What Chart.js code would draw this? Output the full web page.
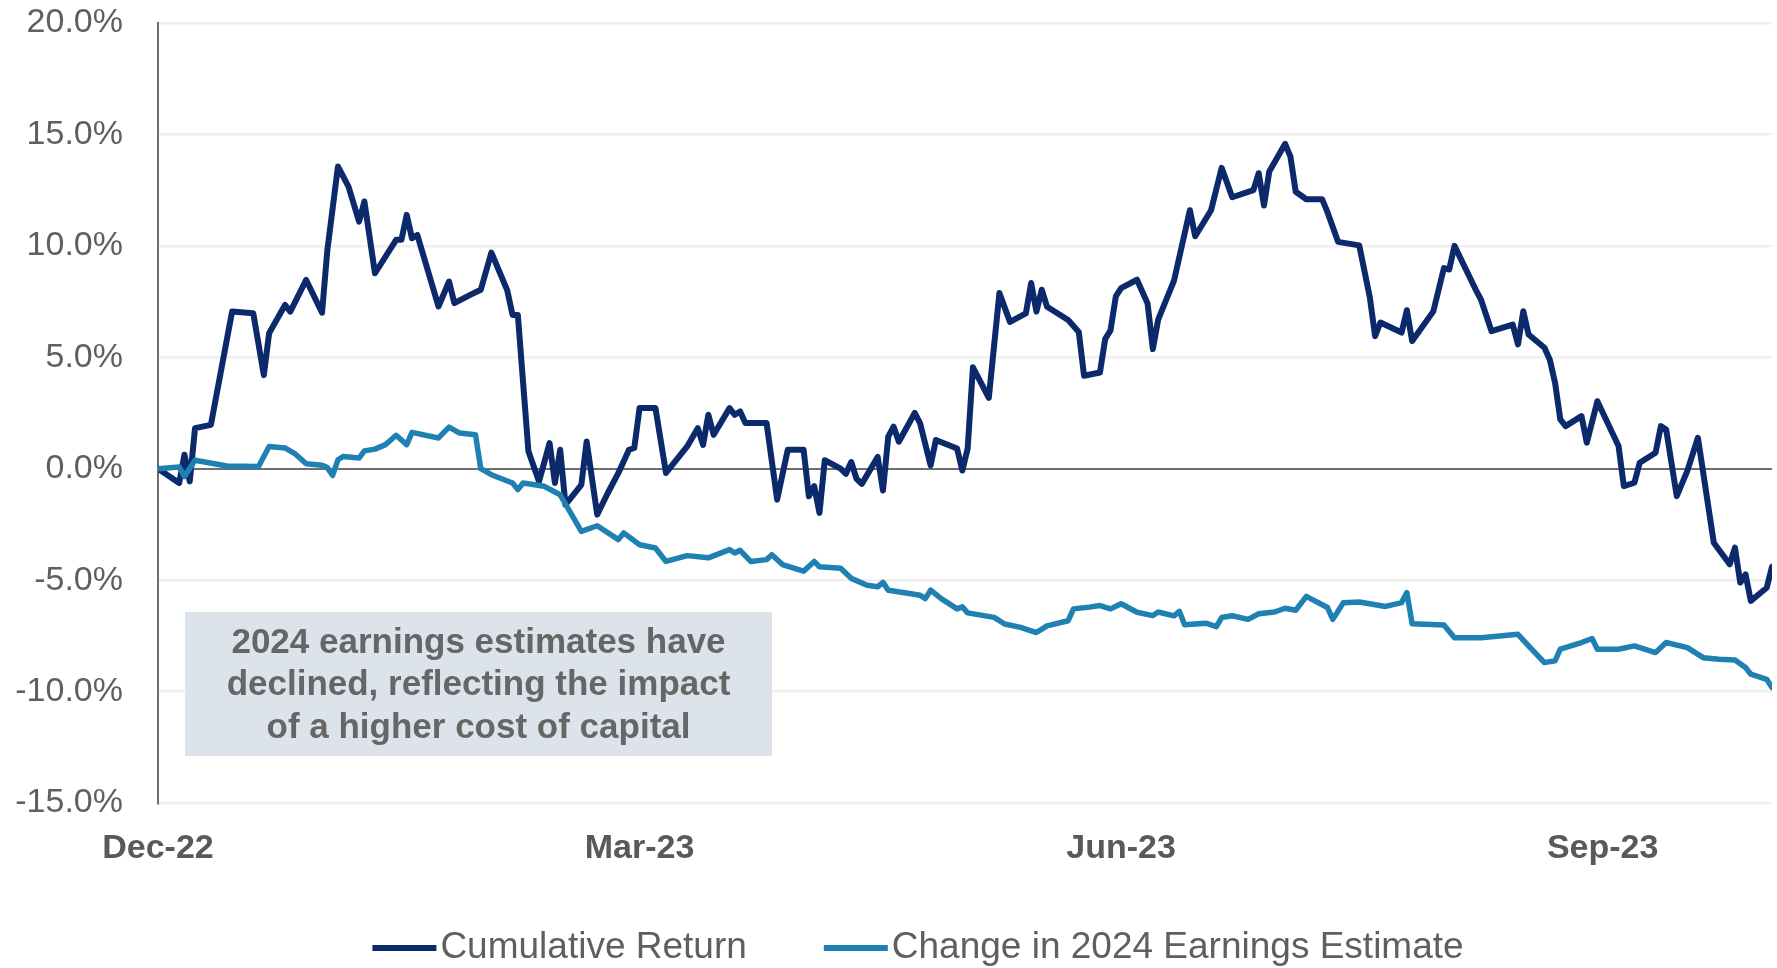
<!DOCTYPE html>
<html>
<head>
<meta charset="utf-8">
<script src="https://cdn.jsdelivr.net/npm/chart.js@4.4.1/dist/chart.umd.min.js"></script>
<style>
  html, body { margin: 0; padding: 0; background: #ffffff; }
  #wrap { position: relative; width: 1777px; height: 968px; }
</style>
</head>
<body>
<div id="wrap"><canvas id="chart"></canvas></div>
<script>
// Calendar days counted from 30 Dec 2022, with the value (%) on that day.
const returnDays = [0, 4, 5, 6, 7, 10, 14, 18, 20, 21, 24, 25, 28, 31, 32, 34, 36, 38, 39, 41,
  45, 46, 47, 48, 49, 53, 55, 56, 59, 61, 63, 66, 67, 68, 70, 72, 74, 75, 76, 77,
  80, 81, 83, 85, 87, 89, 90, 91, 94, 96, 100, 102, 103, 104, 105, 108, 109, 110, 111, 115,
  117, 119, 122, 123, 124, 125, 126, 129, 130, 131, 132, 133, 136, 137, 138, 139, 140, 143, 144, 146,
  147, 151, 152, 153, 154, 157, 159, 161, 164, 165, 166, 167, 168, 172, 174, 175, 178, 179, 180, 181,
  182, 185, 187, 188, 189, 192, 195, 196, 199, 201, 203, 207, 208, 209, 210, 213, 214, 215, 217, 220,
  221, 223, 227, 229, 230, 231, 235, 236, 237, 241, 243, 244, 245, 249, 250, 252, 256, 257, 258, 259,
  262, 263, 264, 265, 266, 269, 270, 272, 276, 277, 279, 280, 283, 284, 285, 287, 289, 291, 294, 297,
  298, 299, 300, 301, 304, 305];
const returnValues = [0.00, -0.64, 0.63, -0.57, 1.82, 1.97, 7.05, 6.98, 4.20, 6.08, 7.35, 7.05, 8.47, 7.00, 9.80, 13.56, 12.66, 11.09, 11.99, 8.77,
  10.27, 10.27, 11.39, 10.34, 10.49, 7.28, 8.40, 7.43, 7.80, 8.03, 9.70, 8.00, 6.90, 6.90, 0.78, -0.57, 1.15, -0.64, 0.85, -1.61,
  -0.72, 1.22, -2.06, -1.09, -0.19, 0.85, 0.93, 2.72, 2.72, -0.19, 1.00, 1.82, 1.07, 2.42, 1.52, 2.72, 2.42, 2.57, 2.05, 2.05,
  -1.39, 0.85, 0.85, -1.24, -0.78, -1.98, 0.38, 0.00, -0.23, 0.30, -0.45, -0.68, 0.53, -0.98, 1.44, 1.89, 1.21, 2.50, 2.05, 0.15,
  1.29, 0.91, -0.08, 0.91, 4.55, 3.18, 7.88, 6.59, 6.97, 8.33, 7.05, 8.03, 7.27, 6.67, 6.14, 4.17, 4.32, 5.83, 6.21, 7.73,
  8.10, 8.48, 7.42, 5.37, 6.69, 8.44, 11.60, 10.43, 11.60, 13.50, 12.18, 12.50, 13.26, 11.81, 13.34, 14.58, 14.00, 12.43, 12.09, 12.09,
  11.51, 10.18, 10.02, 7.69, 5.95, 6.56, 6.11, 7.11, 5.73, 7.06, 9.00, 8.94, 10.00, 8.04, 7.59, 6.17, 6.47, 5.58, 7.07, 6.02,
  5.43, 4.90, 3.86, 2.21, 1.91, 2.36, 1.17, 3.03, 1.02, -0.78, -0.63, 0.27, 0.72, 1.91, 1.76, -1.23, -0.10, 1.39, -3.32, -4.29,
  -3.54, -5.11, -4.74, -5.93, -5.34, -4.40];

const estimateDays = [0, 4, 5, 7, 13, 19, 21, 24, 26, 28, 31, 32, 33, 34, 35, 38, 39, 41, 43, 45,
  47, 48, 53, 55, 57, 60, 61, 63, 67, 68, 69, 73, 76, 78, 80, 83, 87, 88, 91, 94,
  96, 100, 104, 108, 109, 110, 112, 115, 116, 118, 122, 124, 125, 129, 131, 134, 136, 137, 138, 142,
  144, 145, 146, 148, 151, 152, 153, 158, 160, 163, 166, 168, 172, 173, 176, 178, 180, 182, 185, 188,
  189, 192, 193, 194, 198, 200, 201, 203, 206, 208, 211, 213, 215, 217, 221, 222, 224, 227, 232, 235,
  236, 237, 243, 245, 250, 257, 259, 262, 264, 265, 269, 271, 272, 276, 279, 283, 285, 289, 292, 295,
  298, 300, 301, 304, 305];
const estimateValues = [0.00, 0.08, -0.35, 0.38, 0.12, 0.10, 1.00, 0.93, 0.65, 0.22, 0.16, 0.05, -0.30, 0.40, 0.55, 0.48, 0.80, 0.88, 1.08, 1.50,
  1.08, 1.63, 1.38, 1.87, 1.60, 1.52, 0.00, -0.27, -0.64, -0.94, -0.64, -0.79, -1.17, -1.99, -2.81, -2.56, -3.18, -2.88, -3.41, -3.56,
  -4.16, -3.90, -4.00, -3.63, -3.78, -3.66, -4.16, -4.08, -3.86, -4.30, -4.60, -4.16, -4.40, -4.47, -4.92, -5.23, -5.30, -5.10, -5.45, -5.60,
  -5.68, -5.83, -5.45, -5.83, -6.29, -6.20, -6.47, -6.67, -6.97, -7.12, -7.35, -7.05, -6.82, -6.29, -6.21, -6.14, -6.29, -6.06, -6.44, -6.59,
  -6.43, -6.60, -6.40, -7.00, -6.93, -7.09, -6.68, -6.60, -6.76, -6.51, -6.43, -6.26, -6.35, -5.73, -6.23, -6.76, -6.01, -5.98, -6.18, -6.01,
  -5.56, -6.96, -7.01, -7.59, -7.58, -7.43, -7.95, -8.70, -8.62, -8.10, -7.80, -7.62, -8.10, -8.10, -7.95, -8.25, -7.80, -8.03, -8.48, -8.55,
  -8.58, -8.92, -9.22, -9.45, -9.82];

// Quarter-end tick positions (days from 30 Dec 2022) and their labels
const tickDays = [0, 91, 182, 273];
const tickLabels = ['Dec-22', 'Mar-23', 'Jun-23', 'Sep-23'];

const seriesNames = ['Cumulative Return', 'Change in 2024 Earnings Estimate'];
const seriesColors = ['#0c2a6b', '#1f80b2'];

const noteLines = ['2024 earnings estimates have', 'declined, reflecting the impact', 'of a higher cost of capital'];

const FONT = "'Liberation Sans', Arial, Helvetica, sans-serif";

const toPoints = (days, values) => days.map((d, i) => ({ x: d, y: values[i] }));

// Shaded call-out box with centred bold text
const noteBox = {
  id: 'noteBox',
  afterDraw(chart) {
    const ctx = chart.ctx;
    const x = 185, y = 612, w = 587, h = 144;
    ctx.save();
    ctx.fillStyle = '#dde3eb';
    ctx.fillRect(x, y, w, h);
    ctx.fillStyle = '#666666';
    ctx.font = 'bold 35px ' + FONT;
    ctx.textAlign = 'center';
    ctx.textBaseline = 'middle';
    noteLines.forEach((line, i) => ctx.fillText(line, x + w / 2, y + 31 + i * 42.5));
    ctx.restore();
  }
};

// Legend drawn as a short line sample followed by the series name
const lineLegend = {
  id: 'lineLegend',
  afterDraw(chart) {
    const ctx = chart.ctx;
    const sample = 64, gap = 4, itemGap = 77, cy = 948;
    ctx.save();
    ctx.font = '37px ' + FONT;
    ctx.textBaseline = 'middle';
    ctx.textAlign = 'left';
    const items = chart.data.datasets.map(ds => ({ text: ds.label, color: ds.borderColor }))
      .sort((a, b) => seriesNames.indexOf(a.text) - seriesNames.indexOf(b.text));
    const widths = items.map(it => sample + gap + ctx.measureText(it.text).width);
    const total = widths.reduce((s, v) => s + v, 0) + itemGap * (items.length - 1);
    let x = 918 - total / 2;
    items.forEach((it, i) => {
      ctx.fillStyle = it.color;
      ctx.fillRect(x, cy - 3, sample, 6);
      ctx.fillStyle = '#5f5f5f';
      ctx.fillText(it.text, x + sample + gap, cy);
      x += widths[i] + itemGap;
    });
    ctx.restore();
  }
};

new Chart(document.getElementById('chart'), {
  type: 'line',
  data: {
    datasets: [
      {
        label: seriesNames[1],
        data: toPoints(estimateDays, estimateValues),
        borderColor: seriesColors[1],
        backgroundColor: seriesColors[1],
        borderWidth: 5.5,
        order: 0
      },
      {
        label: seriesNames[0],
        data: toPoints(returnDays, returnValues),
        borderColor: seriesColors[0],
        backgroundColor: seriesColors[0],
        borderWidth: 6,
        order: 1
      }
    ]
  },
  options: {
    responsive: true,
    maintainAspectRatio: false,
    animation: false,
    devicePixelRatio: 1,
    layout: { padding: { top: 23, right: 5, bottom: 90, left: 0 } },
    elements: {
      point: { radius: 0, hoverRadius: 0 },
      line: { tension: 0, borderJoinStyle: 'round', borderCapStyle: 'round', fill: false }
    },
    plugins: {
      legend: { display: false },
      tooltip: { enabled: false }
    },
    scales: {
      x: {
        type: 'linear',
        min: 0,
        max: 305,
        afterBuildTicks(scale) { scale.ticks = tickDays.map(v => ({ value: v })); },
        afterFit(scale) {
          scale.height = 75;
          scale.paddingLeft = 0;
          scale.paddingRight = 0;
        },
        grid: { display: false, drawTicks: false },
        border: { display: false },
        ticks: {
          autoSkip: false,
          maxRotation: 0,
          padding: 25,
          color: '#595959',
          font: { family: FONT, size: 34, weight: 'bold' },
          callback: (v) => tickLabels[tickDays.indexOf(v)] ?? ''
        }
      },
      y: {
        min: -15,
        max: 20,
        afterFit(scale) {
          scale.width = 158;
          scale.paddingTop = 0;
          scale.paddingBottom = 0;
        },
        grid: {
          drawTicks: false,
          color: (c) => c.tick && c.tick.value === 0 ? '#6e6e6e' : '#efefef',
          lineWidth: (c) => c.tick && c.tick.value === 0 ? 2 : 2.5
        },
        border: { display: true, color: '#6e6e6e', width: 2 },
        ticks: {
          stepSize: 5,
          padding: 35,
          color: '#5f5f5f',
          font: { family: FONT, size: 34 },
          callback: (v) => v.toFixed(1) + '%'
        }
      }
    }
  },
  plugins: [noteBox, lineLegend]
});
</script>
</body>
</html>
